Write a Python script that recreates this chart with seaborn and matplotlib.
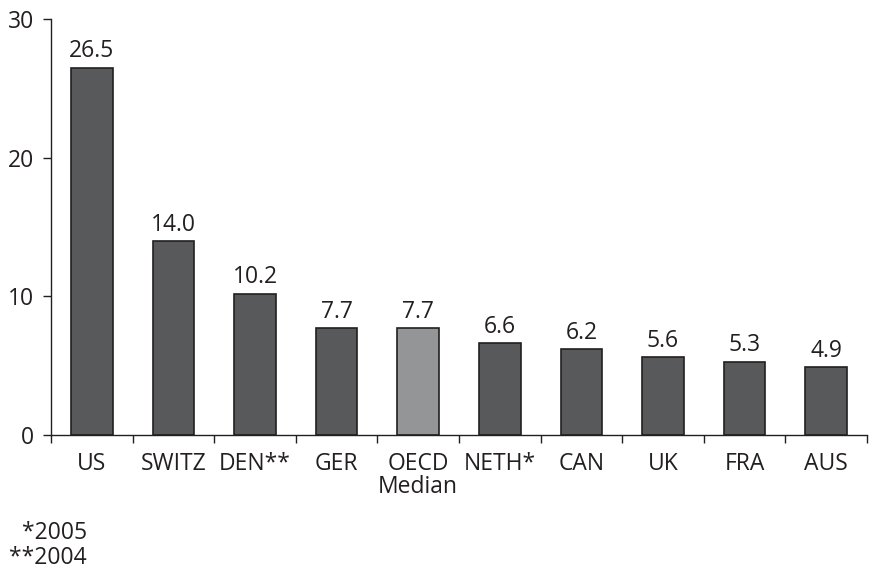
import matplotlib
matplotlib.use("Agg")
import matplotlib.pyplot as plt
import seaborn as sns
import pandas as pd
import numpy as np
from matplotlib.ticker import FixedLocator, NullFormatter

categories = ["US", "SWITZ", "DEN**", "GER", "OECD\nMedian", "NETH*", "CAN", "UK", "FRA", "AUS"]
values = [26.5, 14.0, 10.2, 7.7, 7.7, 6.6, 6.2, 5.6, 5.3, 4.9]
labels = ["26.5", "14.0", "10.2", "7.7", "7.7", "6.6", "6.2", "5.6", "5.3", "4.9"]
groups = ["country", "country", "country", "country", "median", "country", "country", "country", "country", "country"]
footnotes = ["*2005", "**2004"]

sns.set_theme(style="white")
plt.rcParams["font.family"] = ["Open Sans", "DejaVu Sans"]
FS = 16.5

df = pd.DataFrame({"cat": categories, "val": values, "grp": groups})

fig = plt.figure(figsize=(8.69, 5.69), dpi=100)
ax = fig.add_axes([0.0587, 0.2355, 0.939, 0.731])
sns.barplot(data=df, x="cat", y="val", hue="grp", dodge=False,
            palette={"country": "#58595b", "median": "#939598"},
            edgecolor="#231f20", linewidth=1.2, width=0.51, legend=False, ax=ax)

for i, (v, t) in enumerate(zip(values, labels)):
    ax.text(i, v + 0.3, t, ha="center", va="bottom", fontsize=FS, color="#231f20")

ax.set_xlim(-0.5, len(categories) - 0.5)
ax.set_ylim(0, 30)
ax.set_yticks([0, 10, 20, 30])
ax.set_yticklabels(["0", "10", "20", "30"], fontsize=FS, color="#231f20")
ax.set_xticks(range(len(categories)))
ax.set_xticklabels(categories, fontsize=FS, color="#231f20", linespacing=0.95)
ax.xaxis.set_minor_locator(FixedLocator(np.arange(-0.5, len(categories), 1.0)))
ax.xaxis.set_minor_formatter(NullFormatter())
ax.tick_params(axis="x", which="major", length=0, pad=12)
ax.tick_params(axis="x", which="minor", length=6, width=1, color="#231f20", bottom=True)
ax.tick_params(axis="y", which="major", length=6, width=1, color="#231f20", left=True, pad=6)
ax.set_xlabel("")
ax.set_ylabel("")
for s in ["top", "right"]:
    ax.spines[s].set_visible(False)
for s in ["left", "bottom"]:
    ax.spines[s].set_color("#231f20")
    ax.spines[s].set_linewidth(1)

fig.text(87 / 869, 1 - 533 / 569, footnotes[0], ha="right", va="center", fontsize=FS, color="#231f20")
fig.text(87 / 869, 1 - 558 / 569, footnotes[1], ha="right", va="center", fontsize=FS, color="#231f20")

fig.savefig("out.png", dpi=100)
